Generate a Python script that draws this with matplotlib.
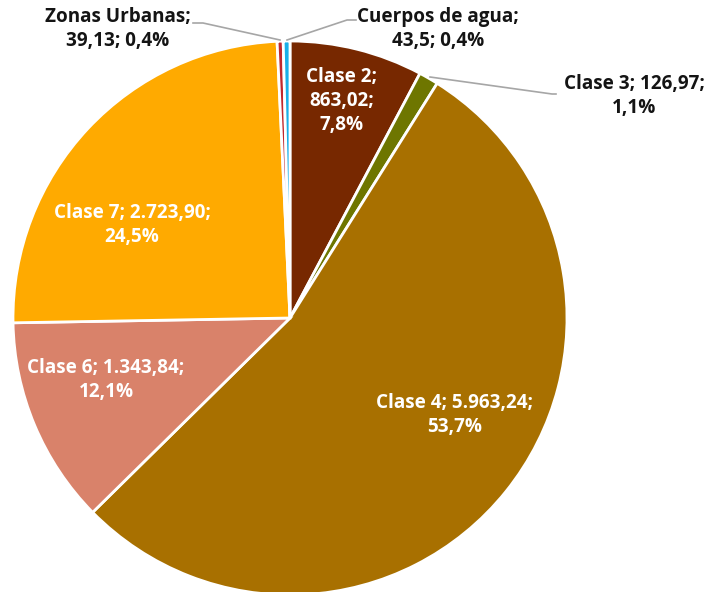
import matplotlib
matplotlib.use("Agg")
import matplotlib.pyplot as plt

categories = ["Clase 2", "Clase 3", "Clase 4", "Clase 6", "Clase 7", "Zonas Urbanas", "Cuerpos de agua"]
values = [863.02, 126.97, 5963.24, 1343.84, 2723.90, 39.13, 43.5]
value_labels = ["863,02", "126,97", "5.963,24", "1.343,84", "2.723,90", "39,13", "43,5"]
colors = ["#772800", "#6E7600", "#A87000", "#D9826A", "#FFAA00", "#C0282D", "#1AAFE8"]

W, H = 710, 592
fig = plt.figure(figsize=(W / 100, H / 100), dpi=100)
ax = fig.add_axes([0, 0, 1, 1])

def Y(py):
    return H - py

cx, cy, r = 290, 318, 277
ax.pie(values, colors=colors, startangle=90, counterclock=False,
       center=(cx, Y(cy)), radius=r, frame=True,
       wedgeprops=dict(edgecolor="white", linewidth=2))
ax.set_xlim(0, W)
ax.set_ylim(0, H)
ax.set_aspect("equal")
ax.axis("off")

total = sum(values)
pct = [f"{v / total * 100:.1f}".replace(".", ",") + "%" for v in values]

font = dict(family="Open Sans", fontweight="bold", fontsize=13.6, ha="center", va="center",
            linespacing=1.28)

# inside labels
ax.text(342, Y(101), f"{categories[0]};\n{value_labels[0]};\n{pct[0]}", color="white", **font)
ax.text(455, Y(415), f"{categories[2]}; {value_labels[2]};\n{pct[2]}", color="white", **font)
ax.text(106, Y(380), f"{categories[3]}; {value_labels[3]};\n{pct[3]}", color="white", **font)
ax.text(132, Y(225), f"{categories[4]}; {value_labels[4]};\n{pct[4]}", color="white", **font)

# outside labels
ax.text(634, Y(96), f"{categories[1]}; {value_labels[1]};\n{pct[1]}", color="#141414", **font)
ax.text(118, Y(29), f"{categories[5]};\n{value_labels[5]}; {pct[5]}", color="#141414", **font)
ax.text(438, Y(29), f"{categories[6]};\n{value_labels[6]}; {pct[6]}", color="#141414", **font)

lc = "#A6A6A6"
ax.plot([193, 203, 280], [Y(23), Y(23), Y(40)], color=lc, lw=1.2)
ax.plot([287, 347, 356], [Y(40), Y(20), Y(20)], color=lc, lw=1.2)
ax.plot([430, 552, 556], [Y(77), Y(94), Y(94)], color=lc, lw=1.2)

fig.savefig("out.png", dpi=100)
